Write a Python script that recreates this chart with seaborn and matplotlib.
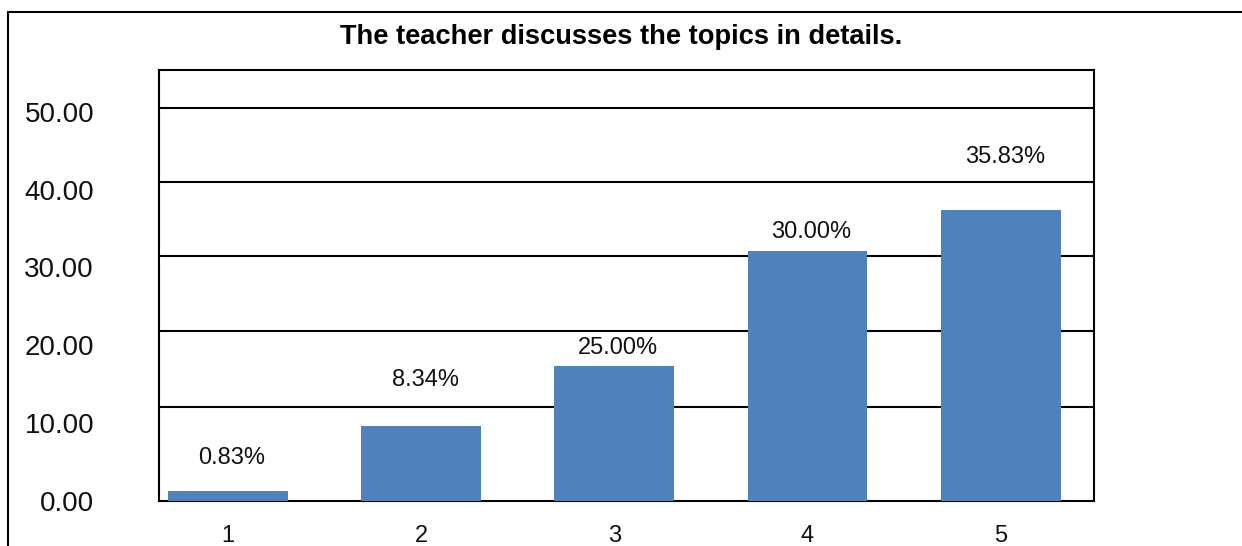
import matplotlib
matplotlib.use("Agg")
import matplotlib.pyplot as plt
from matplotlib import font_manager
from matplotlib.lines import Line2D
import seaborn as sns
import pandas as pd

# ---- data ----
categories = ["1", "2", "3", "4", "5"]
bar_heights = [1.3, 9.6, 17.3, 32.1, 37.4]
bar_labels = ["0.83%", "8.34%", "25.00%", "30.00%", "35.83%"]
ytick_values = [0, 10, 20, 30, 40, 50]
title_text = "The teacher discusses the topics in details."

# ---- layout / style ----
grid_levels = [12.1, 21.8, 31.5, 40.9, 50.5]
label_lift_px = [33, 46, 18, 19, 53]
bar_color = "#4F81BD"

sns.set_style("white")
avail = {f.name for f in font_manager.fontManager.ttflist}
base_font = "Liberation Sans" if "Liberation Sans" in avail else "DejaVu Sans"
narrow = "Liberation Sans Narrow" in avail
title_font = "Liberation Sans Narrow" if narrow else base_font
title_size = 23 if narrow else 19.6
plt.rcParams["font.family"] = [base_font, "DejaVu Sans"]

DPI = 100
fig = plt.figure(figsize=(12.42, 5.46), dpi=DPI)
ax = fig.add_axes([159 / 1242, (546 - 500.7) / 546, (1094 - 159) / 1242, (500.7 - 70) / 546])

df = pd.DataFrame({"cat": categories, "val": bar_heights})
sns.barplot(data=df, x="cat", y="val", color=bar_color, saturation=1, width=0.62,
            linewidth=0, edgecolor="none", ax=ax, zorder=3)

ax.set_xlim(-0.356, 4.483)
ax.set_ylim(0, 55.36)
ax.set_yticks(ytick_values)
ax.set_yticklabels([f"{v:.2f}" for v in ytick_values])
ax.set_xlabel("")
ax.set_ylabel("")
ax.tick_params(axis="y", length=0, pad=46.8, labelsize=20, colors="#111111")
ax.tick_params(axis="x", length=0, pad=17.5, labelsize=17, colors="#111111")
for lbl in ax.get_xticklabels():
    lbl.set_verticalalignment("top")

for g in grid_levels:
    ax.axhline(g, color="black", lw=1.5, zorder=1)
for s in ax.spines.values():
    s.set_visible(True)
    s.set_color("black")
    s.set_linewidth(1.5)

for i, (h, lab) in enumerate(zip(bar_heights, bar_labels)):
    ax.annotate(lab, xy=(i, h), xytext=(3, label_lift_px[i] * 72 / DPI),
                textcoords="offset points", ha="center", va="center",
                fontsize=17, color="#111111", zorder=4)

fig.text(0.5, (546 - 44) / 546, title_text, ha="center", va="baseline",
         fontsize=title_size, fontweight="bold", family=[title_font, "DejaVu Sans"], color="black")

# outer chart frame (top and left edges)
fig.add_artist(Line2D([7.5 / 1242, 1.0], [1 - 12 / 546, 1 - 12 / 546], color="black", lw=1.5))
fig.add_artist(Line2D([7.5 / 1242, 7.5 / 1242], [0, 1 - 12 / 546], color="black", lw=1.5))

fig.savefig("out.png", dpi=DPI, facecolor="white")
